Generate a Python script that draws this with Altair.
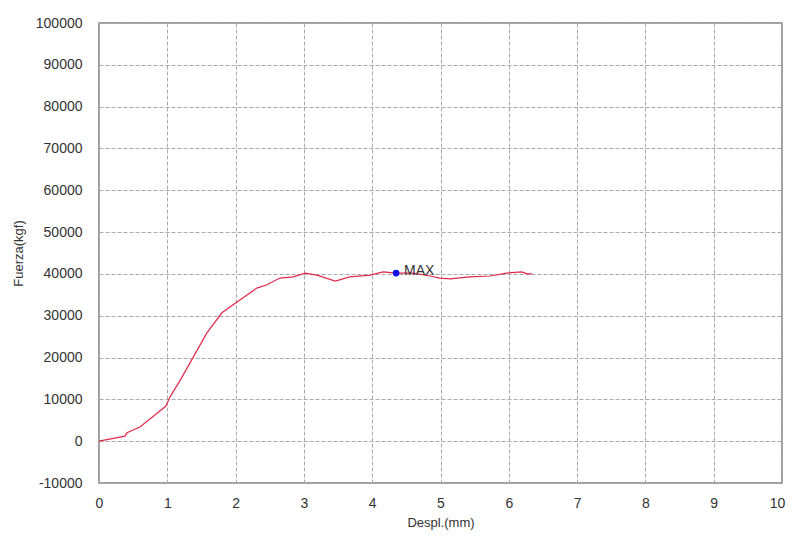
import altair as alt
import pandas as pd

despl = [0.0, 0.38, 0.41, 0.60, 0.85, 0.98, 1.04, 1.19, 1.38, 1.58, 1.80, 2.02, 2.31, 2.46,
         2.65, 2.84, 3.02, 3.19, 3.46, 3.67, 3.97, 4.16, 4.35, 4.60, 4.85, 4.99, 5.14, 5.43,
         5.72, 5.97, 6.19, 6.27, 6.34]
fuerza = [0, 1200, 2000, 3400, 6700, 8400, 10600, 14600, 20100, 25900, 30700, 33300, 36600, 37400,
          39000, 39300, 40200, 39700, 38300, 39300, 39700, 40500, 40200, 40200, 39500, 39000, 38800, 39300,
          39500, 40200, 40500, 40000, 40000]
max_x = [4.35]
max_y = [40200]
max_label = ["MAX"]

df = pd.DataFrame({"x": despl, "y": fuerza, "order": list(range(len(despl)))})
dmax = pd.DataFrame({"x": max_x, "y": max_y, "label": max_label})

xs = alt.Scale(domain=[0, 10], nice=False, zero=False)
ys = alt.Scale(domain=[-10000, 100000], nice=False, zero=False)

xaxis = alt.Axis(values=list(range(0, 11)), format="d", title="Despl.(mm)", grid=True, ticks=False,
                 domain=False, labelPadding=13, titlePadding=6, labelFontSize=14, titleFontSize=13,
                 labelFlush=False, titleFontWeight="normal",
                 labelOffset={"condition": {"test": "datum.value === 10", "value": -5}, "value": 0})
yaxis = alt.Axis(values=list(range(-10000, 100001, 10000)), labelExpr="'' + datum.value",
                 title="Fuerza(kgf)", grid=True,
                 ticks=False, domain=False, labelPadding=17, labelFontSize=14, titleFontSize=13,
                 titleX=-81, titleY=230, titleAlign="center", titleBaseline="middle", titleAngle=-90,
                 titleFontWeight="normal")

line = alt.Chart(df).mark_line(color="#e0294a", strokeWidth=1.2).encode(
    x=alt.X("x:Q", scale=xs, axis=xaxis),
    y=alt.Y("y:Q", scale=ys, axis=yaxis),
    order="order:Q",
)
pt = alt.Chart(dmax).mark_point(filled=True, color="#1010ee", size=45, opacity=1).encode(
    x=alt.X("x:Q", scale=xs), y=alt.Y("y:Q", scale=ys)
)
txt = alt.Chart(dmax).mark_text(align="left", baseline="middle", dx=8, dy=-2, fontSize=14,
                                color="#333333", font="Liberation Sans").encode(
    x=alt.X("x:Q", scale=xs), y=alt.Y("y:Q", scale=ys), text="label:N"
)

chart = (line + pt + txt).properties(
    width=683, height=460,
    autosize=alt.AutoSizeParams(type="none"),
    padding={"left": 91, "top": 15, "right": 5, "bottom": 47},
    background="white",
).configure_view(
    stroke="#808080", strokeWidth=1.5
).configure_axis(
    gridColor="#aaaaaa", gridDash=[4, 2], gridWidth=1,
    labelFont="Liberation Sans", titleFont="Liberation Sans",
    labelColor="#333333", titleColor="#333333",
)

chart.save("out.html", embed_options={"renderer": "svg", "actions": False})
